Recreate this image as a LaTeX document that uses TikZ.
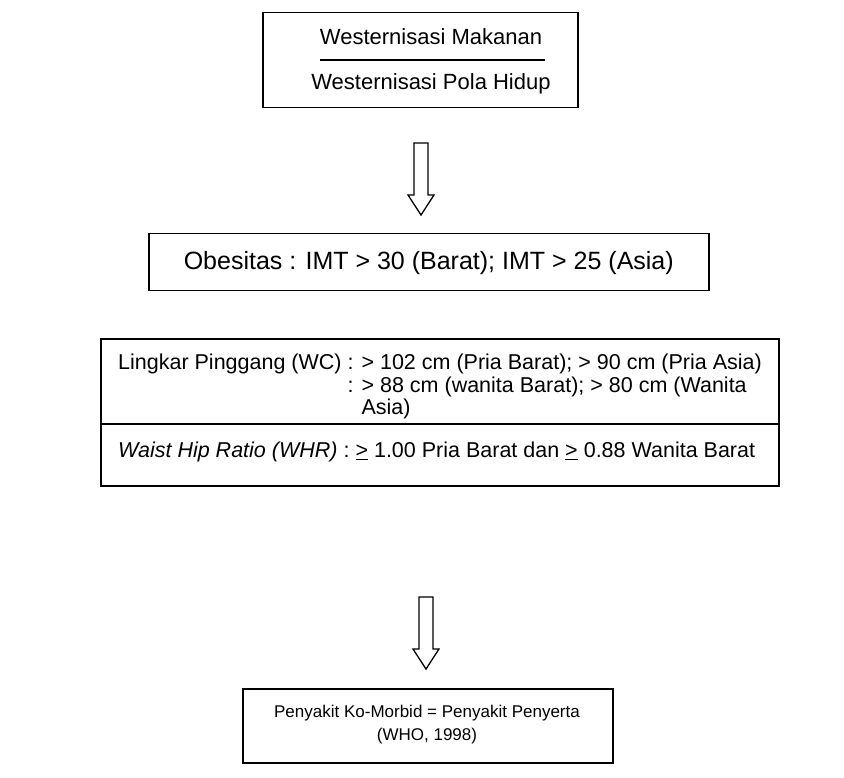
\documentclass[tikz,border=0pt]{standalone}
\usepackage{fontspec}
\setmainfont{Liberation Sans}
\begin{document}
\begin{tikzpicture}[x=1pt,y=-1pt,
  box/.style={draw, line width=1.5pt, inner sep=0pt, anchor=north west},
  txt/.style={inner sep=0pt},
  rule/.style={line width=1.5pt},
  blockarrow/.style={draw, line width=1.3pt, line join=miter}]
\useasboundingbox (0,0) rectangle (844,778);

% top box: two lines divided by a rule
\node[box, minimum width=315, minimum height=95] (west) at (262,12) {};
\node[txt, font=\fontsize{22}{26}\selectfont] (makan) at (431,37) {Westernisasi Makanan};
\node[txt, font=\fontsize{22}{26}\selectfont] (pola) at (431,84) {Westernisasi Pola Hidup};
\draw[rule] (320,60) -- (545,60);

% obesity box
\node[box, minimum width=560, minimum height=57] (obes) at (148,233) {};
\node[txt, font=\fontsize{25}{29}\selectfont] at ([yshift=-1]obes.center) {Obesitas : IMT > 30 (Barat); IMT > 25 (Asia)};

% waist measures box
\node[box, minimum width=678, minimum height=147] (wc) at (100,338) {};
\draw[rule] (wc.west |- 0,424) -- (wc.east |- 0,424);
\node[txt, anchor=north west, font=\fontsize{21.5}{22.5}\selectfont] (wctext) at (118,354) {%
  \begin{tabular}{@{}l@{ }l@{}}
  Lingkar Pinggang (WC) & : > 102 cm (Pria Barat); > 90 cm (Pria Asia)\\
                        & : > 88 cm (wanita Barat); > 80 cm (Wanita\\
                        & \phantom{: }Asia)
  \end{tabular}};
\node[txt, anchor=west, font=\fontsize{21.5}{22.5}\selectfont] (whr) at (118,452) {\textit{Waist Hip Ratio (WHR)} : \underline{>} 1.00 Pria Barat dan \underline{>} 0.88 Wanita Barat};

% co-morbidity box
\node[box, minimum width=370, minimum height=74] (como) at (242,688) {};
\node[txt, align=center, anchor=north, font=\fontsize{17}{23}\selectfont] at (427,705) {Penyakit Ko-Morbid = Penyakit Penyerta\\(WHO, 1998)};

% hollow block arrows
\coordinate (a1) at (421,143);
\coordinate (a2) at (426,597);
\foreach \a in {a1,a2}
  \draw[blockarrow, shift={(\a)}] (-7,0) -- (7,0) -- (7,52) -- (13,52) -- (0,72) -- (-13,52) -- (-7,52) -- cycle;
\end{tikzpicture}
\end{document}
